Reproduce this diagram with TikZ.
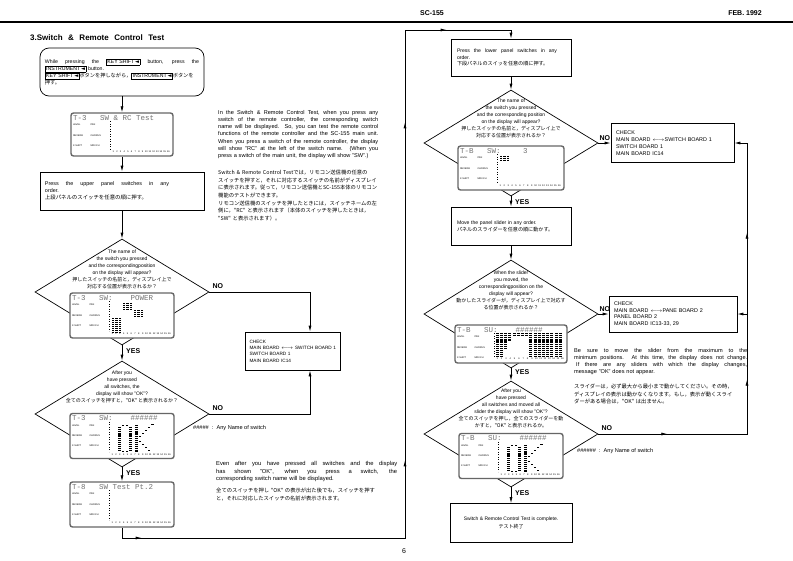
\documentclass[tikz,border=0pt]{standalone}
\usepackage{fontspec}
\setmainfont{Liberation Sans}
\newfontfamily\jp{Noto Sans CJK JP}
\newfontfamily\dv{DejaVu Sans}
\newfontfamily\lcdf{Liberation Mono}
\usetikzlibrary{shapes.geometric,arrows.meta,decorations.markings}
\newcommand\fs[2]{\fontsize{#1}{#2}\selectfont}
\newcommand\kb[1]{{\fboxsep=0.8pt\fboxrule=0.45pt\fbox{#1\,{\dv ◄}}}}
\newcommand\jl[2]{{\spaceskip=0pt\xspaceskip=0pt\makebox[#1][s]{#2}}}
\tikzset{
 box/.style={draw, line width=0.7pt, fill=white},
 diam/.style={draw, line width=0.7pt, shape=diamond, inner sep=0pt, minimum width=174pt, minimum height=106pt},
 lcd/.style={draw=black!60, line width=1.4pt, rounded corners=2.5pt, fill=white, inner sep=0pt},
 conn/.style={line width=0.7pt, -{Latex[length=6pt,width=3pt]}},
 marrow/.style={postaction={decorate, decoration={markings, mark=at position #1 with {\arrow{Latex[length=6pt,width=3pt]}}}}},
 yn/.style={font=\bfseries\fs{7}{8}, inner sep=0pt},
 dtext/.style={font=\fs{5}{6.9}, align=center, inner sep=0pt},
 ptext/.style={font=\fs{5.6}{7.2}, inner sep=0pt, align=left},
 jtext/.style={font=\jp\fs{5.3}{7.6}, inner sep=0pt, align=left},
 lcdtitle/.style={font=\lcdf\fs{7.5}{8}, text=black!55, inner sep=0pt},
 lcdlab/.style={font=\fs{2.4}{3}, inner sep=0pt},
 dmv/.style={line width=2.6pt, dash pattern=on 1.1pt off 0.8pt},
}
\newcommand\lcdcontent[4]{%
 \begin{scope}[shift={(#1.north west)}]
  \node[lcdtitle, anchor=west] (#1-t) at (2.5,5.5) {#4};
  \node[lcdlab, anchor=west] (#1-a) at (2.5,12.5) {LEVEL};
  \node[lcdlab, anchor=west] (#1-b) at (20,12.5) {PAN};
  \node[lcdlab, anchor=west] (#1-c) at (2.5,23) {REVERB};
  \node[lcdlab, anchor=west] (#1-d) at (20,23) {CHORUS};
  \node[lcdlab, anchor=west] (#1-e) at (2.5,33) {K SHIFT};
  \node[lcdlab, anchor=west] (#1-f) at (20,33) {MIDI CH};
  \draw[line width=0.5pt, dotted] (40,9) -- (40,#3-6);
  \foreach \k in {1,...,16} {\node[lcdlab] (#1-n\k) at ({43+(\k-1)*(#2-47)/15},#3-3.5) {\k};}
 \end{scope}}
\newcommand\inlcd[2]{\begin{scope}[shift={(#1.north west)}]#2\end{scope}}
\newcommand\okletters{%
  \draw[dmv] (50,14) -- (50,37.5); \draw[dmv] (61,14) -- (61,37.5);
  \foreach \x in {53.5,57.5} {\fill (\x-1.3,12) rectangle ++(2.6,1.1); \fill (\x-1.3,38.5) rectangle ++(2.6,1.1);}
  \draw[dmv] (67,12) -- (67,39);
  \foreach \x/\y in {70.5/23,73.5/20,76.5/17,79.5/14,70.5/28,73.5/31,76.5/34,79.5/37,83/11} {\fill (\x-1.3,\y) rectangle ++(2.6,1.1);}
}
\begin{document}
\begin{tikzpicture}[x=1pt,y=-1pt]
\fill[white] (0,0) rectangle (793,560);
\useasboundingbox (0,0) rectangle (793,560);
% header
\draw[line width=1.2pt] (0,22) -- (793,22);
\node[font=\bfseries\fs{7}{8}] (hdr1) at (432,13) {SC-155};
\node[font=\bfseries\fs{7}{8}] (hdr2) at (745,13) {FEB. 1992};
\node[font=\bfseries\fs{8}{9}, anchor=west, inner sep=0pt] (title) at (30,38) {\makebox[134pt][s]{3.Switch \& Remote Control Test}};
% ---------------- left column
\node[box, rounded corners=9pt, minimum width=164pt, minimum height=48pt, text width=154pt, inner sep=5pt, align=left, font=\fs{5.2}{7}] (n1) at (122,72)
 {\jl{154pt}{While pressing the \kb{KEY SHIFT} button, press the}\\\kb{INSTRUMENT} button.\\\kb{KEY SHIFT}{\jp ボタンを押しながら，}\kb{INSTRUMENT}{\jp ボタンを}\\{\jp 押す。}};
\node[lcd, minimum width=102pt, minimum height=43pt] (lcd1) at (122,134.5) {};
\lcdcontent{lcd1}{102}{43}{T-3\ \ \ SW \& RC Test}
\node[box, minimum width=164pt, minimum height=38pt, text width=154pt, inner sep=5pt, align=left, font=\fs{5.4}{7.2}] (b2) at (122,191)
 {\jl{124pt}{Press the upper panel switches in any}\\order.\\{\jp 上段パネルのスイッチを任意の順に押す。}};
\node[diam] (d1) at (122,292) {};
\node[dtext, anchor=north] (d1t) at (122,250) {The name of\\the switch you pressed\\and the correspondingposition\\on the display will appear?\\{\jp 押したスイッチの名前と，ディスプレイ上で}\\{\jp 対応する位置が表示されるか？}};
\node[lcd, minimum width=104pt, minimum height=45pt] (lcd2) at (122,315.5) {};
\lcdcontent{lcd2}{104}{45}{T-3\ \ \ SW:\ \ \ \ POWER}
\inlcd{lcd2}{
 \foreach \x in {54.5,58,61.5} {\draw[dmv] (\x,10.5) -- (\x,17.5);}
 \foreach \x in {65.5,69,72.5} {\draw[dmv] (\x,18) -- (\x,25);}
 \foreach \x in {43.5,47,50.5} {\draw[dmv] (\x,26) -- (\x,40);}
}
\node[diam] (d2) at (122,414) {};
\node[dtext, anchor=north] (d2t) at (122,371) {After you\\have pressed\\all switches, the\\display will show "OK"?\\{\jp 全てのスイッチを押すと，"OK" と表示されるか？}};
\node[lcd, minimum width=104pt, minimum height=45pt] (lcd3) at (122,436) {};
\lcdcontent{lcd3}{104}{45}{T-3\ \ \ SW:\ \ \ \ \#\#\#\#\#\#}
\inlcd{lcd3}{\okletters}
\node[lcd, minimum width=104pt, minimum height=45pt] (lcd4) at (122,504.5) {};
\lcdcontent{lcd4}{104}{45}{T-8\ \ \ SW Test Pt.2}
\node[box, minimum width=95pt, minimum height=38pt, text width=87pt, inner sep=4pt, align=left, font=\fs{4.7}{6.3}] (chk1) at (293,351)
 {CHECK\\MAIN BOARD $\longleftrightarrow$ SWITCH BOARD 1\\SWITCH BOARD 1\\MAIN BOARD IC14};
% left connectors
\draw[conn] (n1.south) -- (lcd1.north);
\draw[conn] (lcd1.south) -- (b2.north);
\draw[conn] (b2.south) -- (d1.north);
\draw[conn] (d1.south) -- (d2.north);
\draw[conn] (d2.south) -- (lcd4.north);
\node[yn, anchor=west] (y1) at ([xshift=4pt,yshift=-6pt]d1.south) {YES};
\node[yn, anchor=west] (y2) at ([xshift=4pt,yshift=-6pt]d2.south) {YES};
\coordinate (k1) at (310,292);
\draw[conn] (d1.east) -- (k1) -- (k1 |- chk1.north);
\draw[conn] (d2.east) -- (d2.east -| k1) -- (k1 |- chk1.south);
\node[yn, anchor=south west] (no1) at ([xshift=3pt,yshift=3pt]d1.east) {NO};
\node[yn, anchor=south west] (no2) at ([xshift=3pt,yshift=3pt]d2.east) {NO};
\node[ptext, anchor=west] (an1) at (193,428) {\#\#\#\#\#\ \ :\ \ Any Name of switch};
% paragraphs left page
\node[ptext, anchor=north west, text width=160pt] (p1) at (218,110)
 {\jl{160pt}{In the Switch \& Remote Control Test, when you press any}\\\jl{160pt}{switch of the remote controller, the corresponding switch}\\\jl{160pt}{name will be displayed. So, you can test the remote control}\\\jl{160pt}{functions of the remote controller and the SC-155 main unit.}\\\jl{160pt}{When you press a switch of the remote controller, the display}\\\jl{160pt}{will show "RC" at the left of the switch name. (When you}\\press a switch of the main unit, the display will show "SW".)};
\node[jtext, anchor=north west, text width=165pt] (p2) at (218,170)
 {Switch \& Remote Control Testでは，リモコン送信機の任意の\\スイッチを押すと，それに対応するスイッチの名前がディスプレイ\\に表示されます。従って，リモコン送信機とSC-155本体のリモコン\\機能のテストができます。\\リモコン送信機のスイッチを押したときには，スイッチネームの左\\側に，"RC" と表示されます（本体のスイッチを押したときは，\\"SW" と表示されます）。};
\node[ptext, font=\fs{5.8}{7.6}, anchor=north west, text width=181pt] (p3) at (216,461)
 {\jl{181pt}{Even after you have pressed all switches and the display}\\\jl{181pt}{has shown "OK", when you press a switch, the}\\corresponding switch name will be displayed.};
\node[jtext, anchor=north west, text width=181pt] (p4) at (216,488)
 {全てのスイッチを押し "OK" の表示が出た後でも，スイッチを押す\\と，それに対応したスイッチの名前が表示されます。};
% ---------------- right column
\node[box, minimum width=120pt, minimum height=37pt, text width=108pt, inner sep=6pt, align=left, font=\fs{5.1}{6.8}] (r1) at (511,57.5)
 {\jl{100pt}{Press the lower panel switches in any}\\order.\\{\jp 下段パネルのスイッを任意の順に押す。}};
\node[diam] (d3) at (511,143) {};
\node[dtext, anchor=north] (d3t) at (511,99) {The name of\\the switch you pressed\\and the corresponding position\\on the display will appear?\\{\jp 押したスイッチの名前と，ディスプレイ上で}\\{\jp 対応する位置が表示されるか？}};
\node[lcd, minimum width=106pt, minimum height=44pt] (lcd5) at (511,168) {};
\lcdcontent{lcd5}{106}{44}{T-B\ \ \ SW:\ \ \ \ \ 3}
\inlcd{lcd5}{\foreach \x in {43.5,47,50.5} {\draw[dmv] (\x,10.5) -- (\x,15);}}
\node[box, minimum width=123pt, minimum height=39pt, text width=113pt, inner sep=5pt, align=left, font=\fs{5.4}{6.8}] (chk2) at (672.5,143)
 {CHECK\\MAIN BOARD $\longleftrightarrow$SWITCH BOARD 1\\SWITCH BOARD 1\\MAIN BOARD IC14};
\node[box, minimum width=120pt, minimum height=38pt, text width=108pt, inner sep=6pt, align=left, font=\fs{5.1}{7}] (r2) at (511,226)
 {Move the panel slider in any order.\\{\jp パネルのスライダーを任意の順に動かす。}};
\node[diam, minimum height=108pt] (d4) at (511,314) {};
\node[dtext, anchor=north] (d4t) at (511,271) {When the slider\\you moved, the\\correspondingposition on the\\display will appear?\\{\jp 動かしたスライダーが，ディスプレイ上で対応す}\\{\jp る位置が表示されるか？}};
\node[lcd, minimum width=112pt, minimum height=38pt] (lcd6) at (511,344) {};
\lcdcontent{lcd6}{112}{38}{T-B\ \ \ SU:\ \ \ \ \#\#\#\#\#\#}
\inlcd{lcd6}{\foreach \x/\b in {43/32, 47.2/32, 51.4/24, 55.6/17, 59.8/12, 64/12, 68.2/12, 72.4/12, 76.6/32, 80.8/32, 85/32, 89.2/32, 93.4/32, 97.6/32, 101.8/32, 106/32} {\draw[dmv, line width=3pt] (\x,8.5) -- (\x,\b);}}
\node[box, minimum width=128pt, minimum height=36pt, text width=118pt, inner sep=5pt, align=left, font=\fs{5.4}{6.8}] (chk3) at (673,314)
 {CHECK\\MAIN BOARD $\longleftrightarrow$PANE BOARD 2\\PANEL BOARD 2\\MAIN BOARD IC13-33, 29};
\node[diam] (d5) at (511,434) {};
\node[dtext, anchor=north] (d5t) at (511,389) {After you\\have pressed\\all switches and moved all\\slider the display will show "OK"?\\{\jp 全てのスイッチを押し，全てのスライダーを動}\\{\jp かすと，"OK" と表示されるか。}};
\node[lcd, minimum width=104pt, minimum height=45pt] (lcd7) at (511,456) {};
\lcdcontent{lcd7}{104}{45}{T-B\ \ \ SU:\ \ \ \ \#\#\#\#\#\#}
\inlcd{lcd7}{\okletters}
\node[box, minimum width=122pt, minimum height=39pt, align=center, font=\fs{5}{7.5}] (r3) at (511,523)
 {Switch \& Remote Control Test is complete.\\{\jp テスト終了}};
% right connectors
\draw[conn] (r1.south) -- (d3.north);
\draw[conn] (d3.south) -- (r2.north);
\draw[conn] (r2.south) -- (d4.north);
\draw[conn] (d4.south) -- (d5.north);
\draw[conn] (d5.south) -- (r3.north);
\node[yn, anchor=west] (y3) at ([xshift=4pt,yshift=-6pt]d3.south) {YES};
\node[yn, anchor=west] (y4) at ([xshift=4pt,yshift=-4pt]d4.south) {YES};
\node[yn, anchor=west] (y5) at ([xshift=4pt,yshift=-6pt]d5.south) {YES};
\draw[conn] (d3.east) -- (chk2.west);
\draw[conn] (d4.east) -- (chk3.west);
\node[yn, anchor=south west] (no3) at ([xshift=1pt,yshift=2pt]d3.east) {NO};
\node[yn, anchor=south west] (no4) at ([xshift=1pt,yshift=2pt]d4.east) {NO};
\node[yn, anchor=south west] (no5) at ([xshift=3pt,yshift=3pt]d5.east) {NO};
\coordinate (R1) at (747,434);
\draw[conn, marrow=69pt, marrow=203pt, marrow=350pt] (d5.east) -- (R1) -- (R1 |- chk2.east) -- (chk2.east);
\draw[conn] (R1 |- chk3.east) -- (chk3.east);
% loop from left page to right page
\coordinate (L1) at (405,538);
\coordinate (L2) at (405,30);
\draw[conn, marrow=30pt, marrow=371pt, marrow=709pt, marrow=843pt] (lcd4.south) |- (L1) -- (L2) -| (r1.north);
% right texts
\node[ptext, anchor=north west, text width=173pt] (p5) at (574,348)
 {\jl{173pt}{Be sure to move the slider from the maximum to the}\\\jl{173pt}{minimum positions. At this time, the display does not change.}\\\jl{173pt}{\hspace{2pt}If there are any sliders with which the display changes,}\\message "OK" does not appear.};
\node[jtext, anchor=north west, text width=175pt] (p6) at (574,384)
 {スライダーは，必ず最大から最小まで動かしてください。その時，\\ディスプレイの表示は動かなくなります。もし，表示が動くスライ\\ダーがある場合は，"OK" は出ません。};
\node[ptext, anchor=west] (an2) at (577,451) {\#\#\#\#\#\#\ \ :\ \ Any Name of switch};
\node[font=\fs{7}{8}] (pg) at (404,551) {6};
\end{tikzpicture}
\end{document}
